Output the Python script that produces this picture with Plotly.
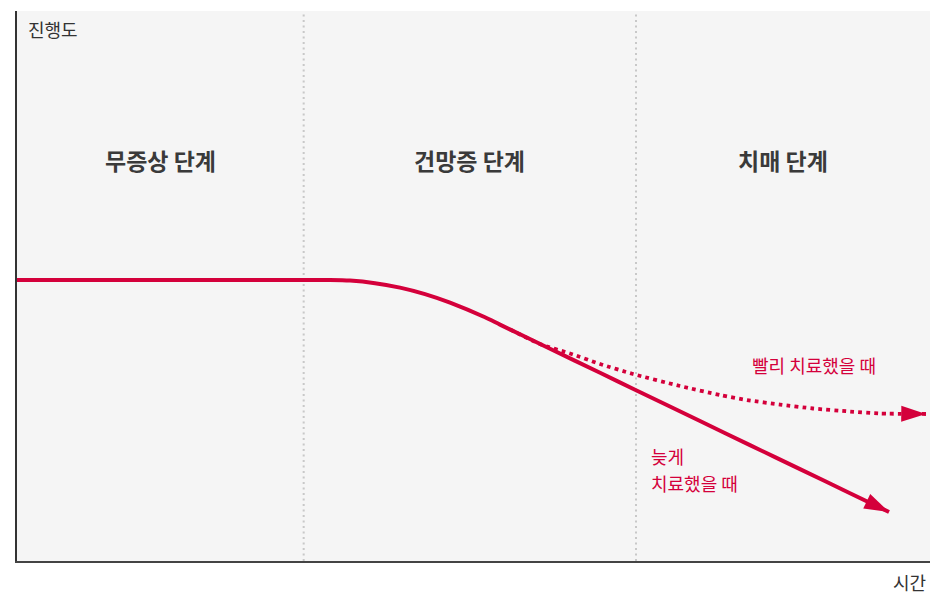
import plotly.graph_objects as go

# ---- data (x: time 0-100, y: progress 0-100) ----
stage_names = ["무증상 단계", "건망증 단계", "치매 단계"]
stage_bounds = [0, 31.4, 67.8, 100]

late_x = [0, 34.28, 36.47, 39.21, 41.95, 44.69, 47.43, 51.26, 52.90, 58.38,
          63.86, 67.69, 74.81, 80.28, 85.76, 91.24, 95.51]
late_y = [51.09, 51.09, 50.98, 50.51, 49.71, 48.53, 46.98, 44.31, 42.98, 38.60,
          34.22, 31.15, 25.45, 21.07, 16.71, 12.33, 8.91]

early_x = [54.00, 57.28, 60.57, 63.86, 67.47, 72.62, 77.00, 79.96, 83.57,
           87.19, 91.24, 94.52, 99.56]
early_y = [42.11, 39.45, 37.73, 35.82, 34.00, 31.82, 30.18, 29.27, 28.45,
           27.73, 27.18, 26.82, 26.73]

early_label = "빨리 치료했을 때"
late_label_lines = ["늦게", "치료했을 때"]
y_title = "진행도"
x_title = "시간"

RED = "#d4003b"
TEXT = "#333333"
FONT = "Noto Sans CJK KR"


def arrow_sizes(n, size):
    return [0] * (n - 1) + [size]


fig = go.Figure()

fig.add_trace(go.Scatter(
    x=late_x, y=late_y, mode="lines+markers",
    line=dict(color=RED, width=4, shape="spline", smoothing=0.6),
    marker=dict(symbol="arrow", size=arrow_sizes(len(late_x), 26), opacity=1,
                angleref="previous", color=RED, line=dict(width=0)),
    hoverinfo="skip", showlegend=False,
))

fig.add_trace(go.Scatter(
    x=early_x, y=early_y, mode="lines+markers",
    line=dict(color=RED, width=3.8, dash="3.8px,4.2px", shape="spline", smoothing=0.6),
    marker=dict(symbol="arrow", size=arrow_sizes(len(early_x), 26), opacity=1,
                angleref="previous", color=RED, line=dict(width=0)),
    hoverinfo="skip", showlegend=False,
))

shapes = []
for b in stage_bounds[1:-1]:
    shapes.append(dict(type="line", xref="x", yref="y", x0=b, x1=b, y0=0, y1=100,
                       line=dict(color="#c8c8c8", width=2, dash="2px,3.5px"),
                       layer="below"))

annotations = []
for i, name in enumerate(stage_names):
    cx = (stage_bounds[i] + stage_bounds[i + 1]) / 2
    annotations.append(dict(x=cx, y=72.9, xref="x", yref="y", text="<b>%s</b>" % name,
                            showarrow=False, font=dict(family=FONT, size=23, color="#3a3a3a"),
                            xanchor="center", yanchor="middle"))

annotations.append(dict(x=87.24, y=35.64, xref="x", yref="y", text=early_label,
                        showarrow=False, font=dict(family=FONT, size=18, color=RED),
                        xanchor="center", yanchor="middle"))
for line_text, yy in zip(late_label_lines, [19.09, 14.2]):
    annotations.append(dict(x=69.2, y=yy, xref="x", yref="y", text=line_text,
                            showarrow=False, font=dict(family=FONT, size=18, color=RED),
                            xanchor="left", yanchor="middle"))

annotations.append(dict(x=0.0099, y=0.967, xref="paper", yref="paper", text=y_title,
                        showarrow=False, font=dict(family=FONT, size=18, color=TEXT),
                        xanchor="left", yanchor="middle"))
annotations.append(dict(x=0.998, y=-0.038, xref="paper", yref="paper", text=x_title,
                        showarrow=False, font=dict(family=FONT, size=18, color=TEXT),
                        xanchor="right", yanchor="middle"))

fig.update_layout(
    width=933, height=596,
    margin=dict(l=17, r=3, t=11, b=35),
    paper_bgcolor="white", plot_bgcolor="#f5f5f5",
    font=dict(family=FONT, color=TEXT),
    shapes=shapes, annotations=annotations,
    xaxis=dict(range=[0, 100], showgrid=False, zeroline=False, showticklabels=False,
               ticks="", showline=True, linecolor="#444444", linewidth=2, fixedrange=True),
    yaxis=dict(range=[0, 100], showgrid=False, zeroline=False, showticklabels=False,
               ticks="", showline=True, linecolor="#333333", linewidth=2, fixedrange=True),
)

fig.write_html("out.html", config={"displayModeBar": False},
               post_script="document.body.style.margin='0';document.body.style.overflow='hidden';")
